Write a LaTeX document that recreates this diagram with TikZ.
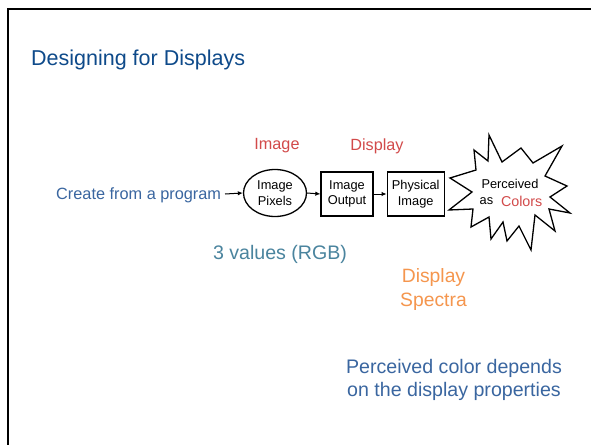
\documentclass[tikz,border=0pt]{standalone}
\usepackage{fontspec}
\setmainfont{Liberation Sans}
\usetikzlibrary{arrows.meta,shapes.geometric}
\definecolor{titleblue}{HTML}{0E4A8A}
\definecolor{txtblue}{HTML}{3A66A0}
\definecolor{tealblue}{HTML}{4A849E}
\definecolor{redtxt}{HTML}{D24A4A}
\definecolor{orangetxt}{HTML}{F5964E}
\tikzset{
  arr/.style={-{Latex[length=5pt,width=4.5pt]}, line width=1pt},
  boxnode/.style={draw, line width=1.3pt, minimum width=52pt, minimum height=44pt, inner sep=0pt, align=center, font=\fontsize{12.8}{15.5}\selectfont},
  ellnode/.style={draw, ellipse, line width=1.3pt, minimum width=63pt, minimum height=47pt, inner sep=0pt, align=center, font=\fontsize{12.8}{15.5}\selectfont},
  small/.style={font=\fontsize{12.8}{15}\selectfont},
}
\begin{document}
\begin{tikzpicture}[x=1pt,y=-1pt]
\useasboundingbox (0,0) rectangle (591,444);
\fill[white] (0,0) rectangle (591,444);
% frame
\draw[line width=2.4pt] (8,446) -- (8,9.3) -- (593,9.3);
% title
\node[anchor=west, text=titleblue, font=\fontsize{21.5}{24}\selectfont, inner sep=0pt] (title) at (31,60) {Designing for Displays};
% labels
\node[text=redtxt, font=\fontsize{16.2}{19}\selectfont] (limg) at (277,146) {Image};
\node[text=redtxt, font=\fontsize{16.2}{19}\selectfont] (ldisp) at (377,146) {Display};
\node[anchor=west, text=txtblue, font=\fontsize{16.3}{19}\selectfont, inner sep=0pt] (create) at (56,195) {Create from a program};
% nodes
\node[ellnode] (pix) at (275,193) {Image\\Pixels};
\node[boxnode] (out) at (347,194) {Image\\Output};
\node[boxnode, minimum width=57pt] (phys) at (415.7,194) {Physical\\Image};
% arrows
\coordinate (cstart) at (225,194);
\draw[arr] (cstart) -- (pix.west);
\draw[arr] (pix.east) -- (out.west);
\draw[arr] (out.east) -- (phys.west);
% starburst
\draw[line width=1.3pt, line join=miter] (489,135) -- (502,162) -- (521,148) -- (533,163) -- (562,146) -- (545,176) -- (567,186) -- (550,197) -- (570,213) -- (549,209) -- (555,231) -- (535,215) -- (531,250) -- (519,226) -- (507,241) -- (503,222) -- (491,239) -- (489,217) -- (471,227) -- (473,209) -- (449,210) -- (472,192) -- (450,178) -- (476,170) -- (474,150) -- (488,161) -- cycle;
\node[small] (perc) at (510,184) {Perceived};
\node[small] (as) at (486.5,201) {as};
\node[text=redtxt, font=\fontsize{14.3}{17}\selectfont] (colors) at (521.7,201) {Colors};
% other texts
\node[text=tealblue, font=\fontsize{19.6}{23}\selectfont] (rgb) at (280,254) {3 values (RGB)};
\node[text=orangetxt, font=\fontsize{19.3}{24}\selectfont, align=center] (spec) at (433.5,290) {Display\\Spectra};
\node[text=txtblue, font=\fontsize{19.6}{23.5}\selectfont, align=center] (note) at (454,380) {Perceived color depends\\on the display properties};
\end{tikzpicture}
\end{document}
